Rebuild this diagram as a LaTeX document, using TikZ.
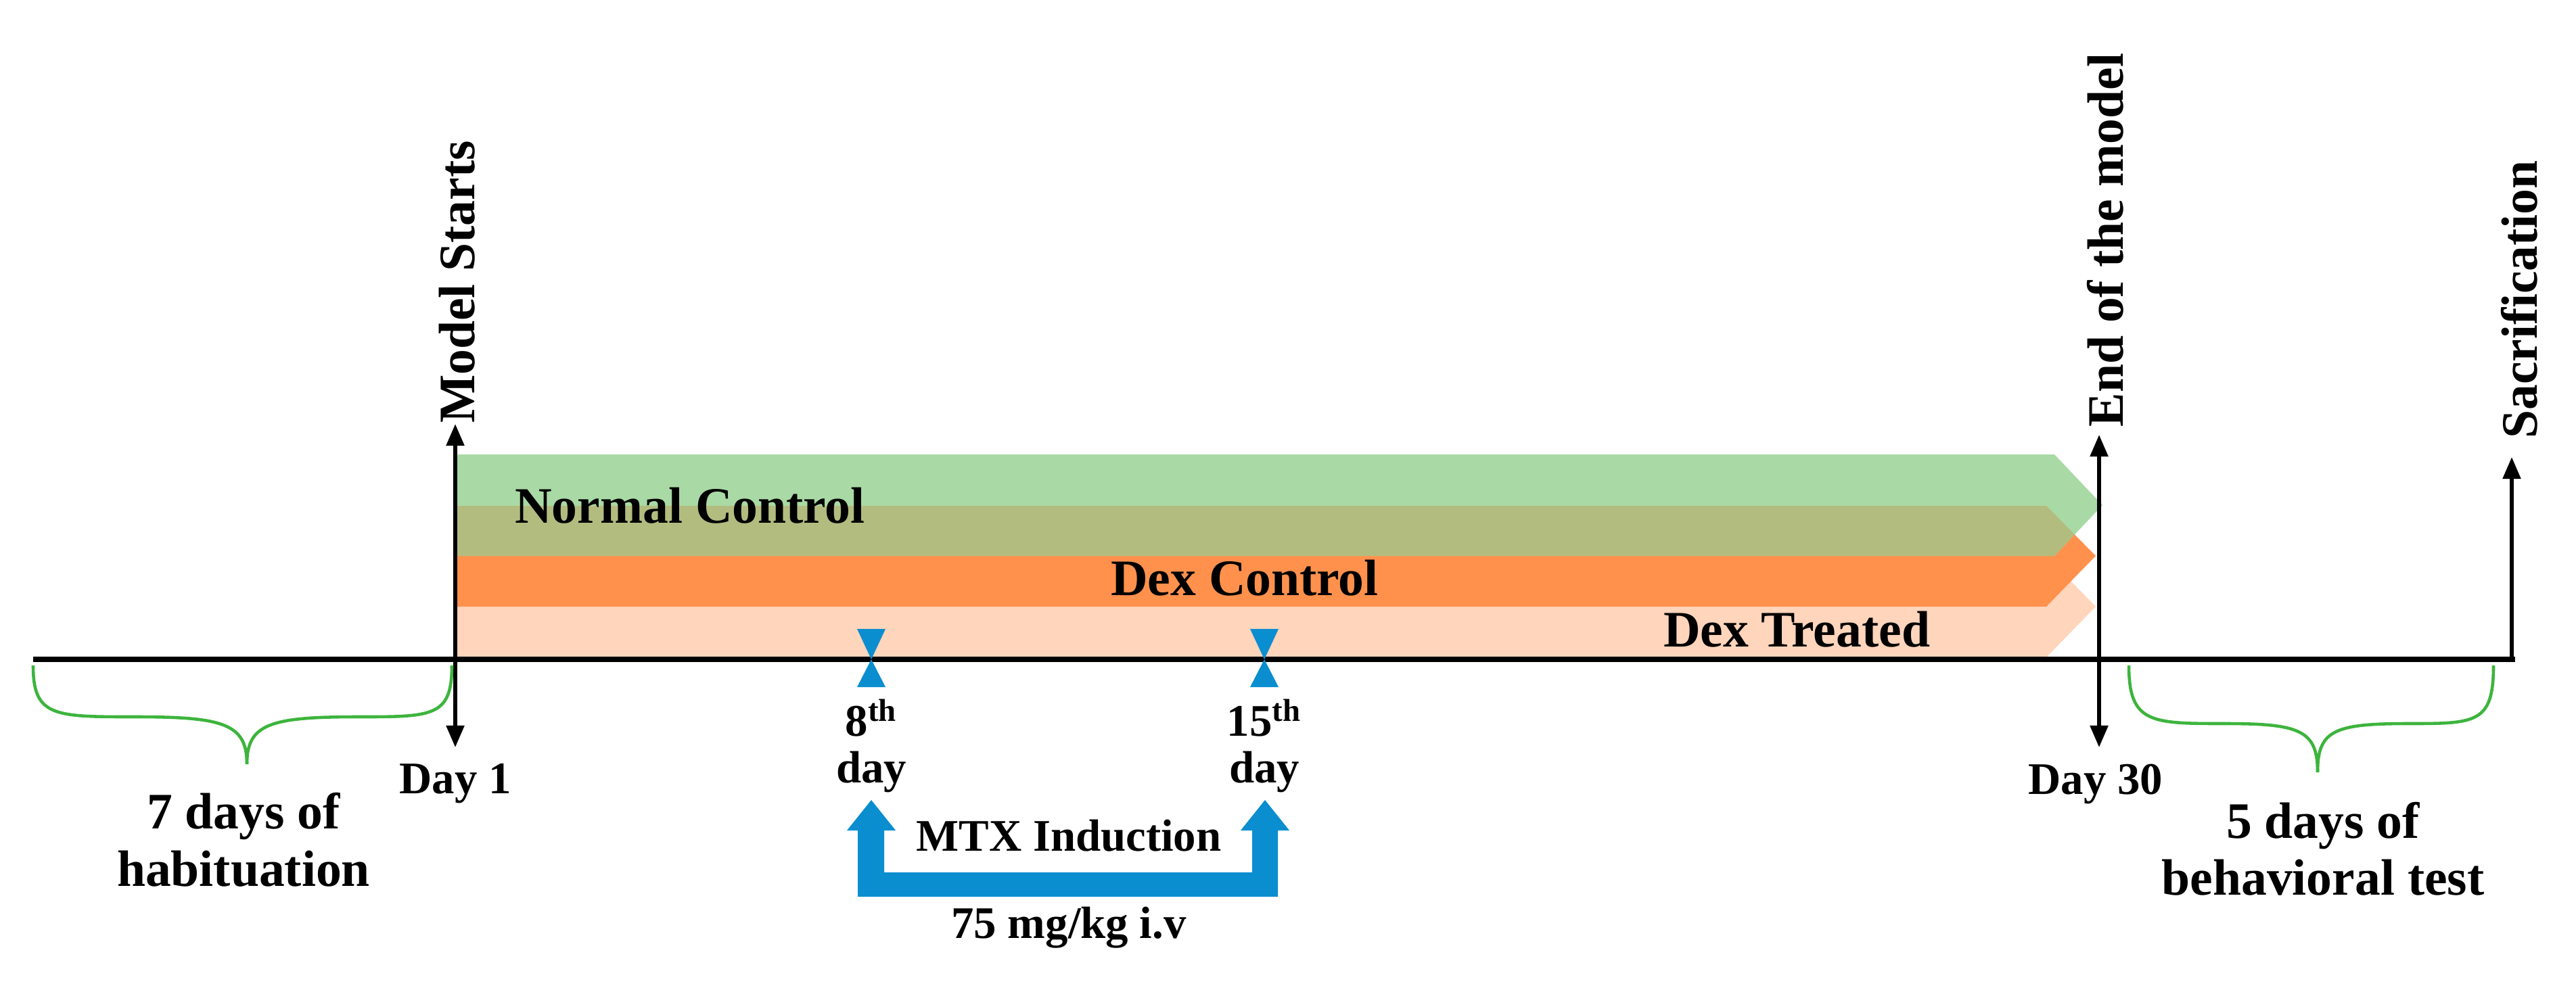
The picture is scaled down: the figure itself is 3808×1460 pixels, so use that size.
\documentclass[tikz,border=0pt]{standalone}
\usepackage{fontspec}
\setmainfont{Liberation Serif}
\usetikzlibrary{arrows.meta}
\definecolor{cgreen}{HTML}{A9D9A5}
\definecolor{colive}{HTML}{B3BC7F}
\definecolor{corange}{HTML}{FF914D}
\definecolor{cpeach}{HTML}{FFD5BC}
\definecolor{cblue}{HTML}{0A8ED0}
\definecolor{cbrace}{HTML}{3DB43D}
\begin{document}
\begin{tikzpicture}[x=0.01cm,y=-0.01cm,
  lbl/.style={font=\fontsize{21.5}{24}\selectfont\bfseries,inner sep=0pt},
  sml/.style={font=\fontsize{19}{22}\selectfont\bfseries,inner sep=0pt},
  vline/.style={line width=1.5pt,-{Triangle[length=0.32cm,width=0.26cm]}},
  brace/.style={draw=cbrace,line width=1.3pt},
  bow/.style={fill=cblue}]
\useasboundingbox (0,0) rectangle (3808,1460);
% bands
\fill[cpeach] (673,822) -- (3025,822) -- (3098,897) -- (3025,972) -- (673,972) -- cycle;
\fill[corange] (673,748) -- (3025,748) -- (3098,822) -- (3025,897) -- (673,897) -- cycle;
\fill[cgreen] (673,672) -- (3037,672) -- (3108,747) -- (3037,822) -- (673,822) -- cycle;
\begin{scope}
\clip (673,672) -- (3037,672) -- (3108,747) -- (3037,822) -- (673,822) -- cycle;
\fill[colive] (673,748) -- (3025,748) -- (3098,822) -- (3025,897) -- (673,897) -- cycle;
\end{scope}
\node[lbl] (nc) at (1020,748) {Normal Control};
\node[lbl] (dc) at (1840,855) {Dex Control};
\node[lbl] (dt) at (2656,931) {Dex Treated};
% axis
\coordinate (axL) at (49,975);
\coordinate (axR) at (3718,975);
\draw[line width=2pt] (axL) -- (axR);
% vertical markers
\coordinate (ms) at (673,975);
\coordinate (msT) at (673,627);
\coordinate (msB) at (673,1105);
\coordinate (em) at (3103,975);
\coordinate (emT) at (3103,643);
\coordinate (emB) at (3103,1105);
\coordinate (sc) at (3713,975);
\coordinate (scT) at (3713,676);
\draw[vline] (ms) -- (msT);
\draw[vline] (ms) -- (msB);
\draw[vline] (em) -- (emT);
\draw[vline] (em) -- (emB);
\draw[vline] (sc) -- (scT);
\node[lbl,rotate=90] (tms) at (676,417) {Model Starts};
\node[lbl,rotate=90] (tem) at (3112,355) {End of the model};
\node[lbl,rotate=90] (tsc) at (3724,443) {Sacrification};
\node[sml] (d1) at (673,1159) {Day 1};
\node[sml] (d30) at (3098,1159) {Day 30};
% braces
\draw[brace] (49,984) .. controls (49,1060) and (80,1060) .. (200,1060) .. controls (330,1060) and (365,1070) .. (365,1130);
\draw[brace] (668,984) .. controls (668,1060) and (640,1060) .. (530,1060) .. controls (400,1060) and (365,1070) .. (365,1130);
\node[lbl,align=center] (hab) at (360,1242) {7 days of\\[0pt]habituation};
\draw[brace] (3147,984) .. controls (3147,1070) and (3180,1070) .. (3290,1070) .. controls (3400,1070) and (3426,1080) .. (3426,1142);
\draw[brace] (3686,984) .. controls (3686,1070) and (3660,1070) .. (3560,1070) .. controls (3450,1070) and (3426,1080) .. (3426,1142);
\node[lbl,align=center] (beh) at (3434,1255) {5 days of\\[0pt]behavioral test};
% blue bow-ties
\foreach \x in {1288,1869}{
  \fill[bow] (\x-21,930) -- (\x+21,930) -- (\x,975) -- cycle;
  \fill[bow] (\x,975) -- (\x+21,1016) -- (\x-21,1016) -- cycle;
}
\node[sml] (d8) at (1288,1062) {8\textsuperscript{th}};
\node[sml] (d8b) at (1288,1142) {day};
\node[sml] (d15) at (1869,1062) {15\textsuperscript{th}};
\node[sml] (d15b) at (1869,1142) {day};
% MTX U-arrow
\fill[cblue] (1288,1183) -- (1324,1228) -- (1307,1228) -- (1307,1290) -- (1851,1290) -- (1851,1228)
  -- (1834,1228) -- (1870,1183) -- (1906,1228) -- (1889,1228) -- (1889,1326) -- (1268,1326)
  -- (1268,1228) -- (1252,1228) -- cycle;
\node[sml] (mtx) at (1580,1236) {MTX Induction};
\node[sml] (dose) at (1580,1372) {75 mg/kg i.v};
\end{tikzpicture}
\end{document}
